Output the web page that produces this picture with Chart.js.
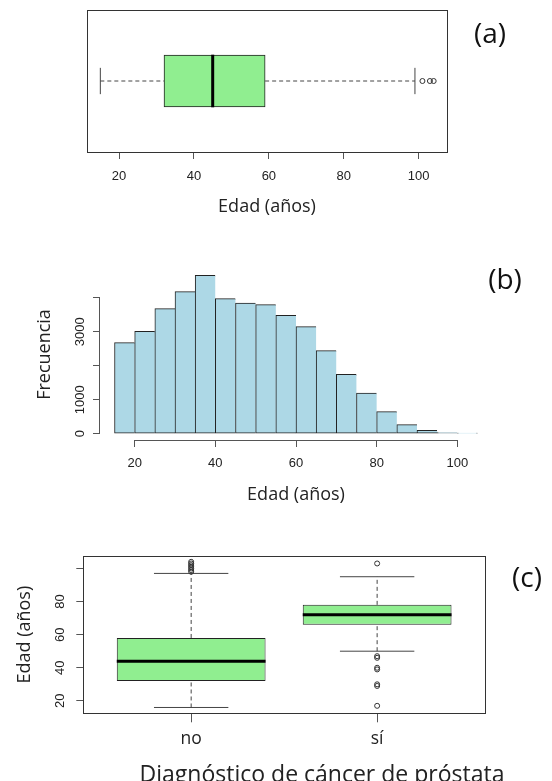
<!DOCTYPE html>
<html lang="es">
<head>
<meta charset="utf-8">
<title>Edad y diagnóstico de cáncer de próstata</title>
<script src="https://cdn.jsdelivr.net/npm/chart.js@4.4.1/dist/chart.umd.min.js"></script>
<style>
  html, body { margin: 0; padding: 0; background: #fff; overflow: hidden; }
  body { position: relative; width: 552px; height: 781px; }
  .panel { position: absolute; left: 0; width: 552px; }
  .letra { position: absolute; font: 28px "Open Sans", sans-serif; color: #111; line-height: 1; transform: translate(-50%, -50%); }
  .tituloX { position: absolute; font: 23px "Open Sans", sans-serif; color: #222; line-height: 1; white-space: nowrap; transform: translate(-50%, -50%); }
</style>
</head>
<body>
<div class="panel" style="top:0; height:232px;"><canvas id="graficoA"></canvas></div>
<div class="panel" style="top:240px; height:280px;"><canvas id="graficoB"></canvas></div>
<div class="panel" style="top:545px; height:250px;"><canvas id="graficoC"></canvas></div>
<div class="letra" style="left:490px; top:32px;">(a)</div>
<div class="letra" style="left:505px; top:278px;">(b)</div>
<div class="letra" style="left:527px; top:576px;">(c)</div>
<div class="tituloX" style="left:322px; top:773px;">Diagnóstico de cáncer de próstata</div>
<script>
// (a) edad de todos los pacientes: bigote inf., Q1, mediana, Q3, bigote sup.
const resumenEdad = [15, 32, 45, 59, 99];
const atipicosEdad = [101, 103, 104];
const ticksEdad = [20, 40, 60, 80, 100];

// (b) histograma de la edad
const limitesClase = [15, 20, 25, 30, 35, 40, 45, 50, 55, 60, 65, 70, 75, 80, 85, 90, 95, 100, 105];
const frecuencias = [2676, 3010, 3676, 4176, 4657, 3971, 3843, 3794, 3480, 3147, 2441, 1745, 1196, 647, 265, 98, 30, 15];
const ticksFrecuencia = [0, 1000, 2000, 3000, 4000];
const etiquetasFrecuencia = ['0', '1000', '', '3000', ''];

// (c) edad según diagnóstico
const grupos = ['no', 'sí'];
const resumenNo = [16, 32, 44, 58, 97];
const resumenSi = [50, 66, 72, 78, 95];
const atipicosNo = [98, 99, 100, 101, 102, 103, 104];
const atipicosSi = [103, 47, 46, 40, 39, 30, 29, 17];
const etiquetasEdadC = ['20', '40', '60', '80', ''];

const verde = '#90EE90';
const azul = '#ADD8E6';
const fuenteTicks = { family: '"Liberation Sans", Arial, sans-serif', size: 13 };
const fuenteTitulo = { family: '"Open Sans", sans-serif', size: 18 };

Chart.defaults.color = '#222';
Chart.defaults.font.family = '"Open Sans", sans-serif';

// rango como lo extiende R (4% a cada lado)
const rangoR = (lo, hi) => [lo - 0.04 * (hi - lo), hi + 0.04 * (hi - lo)];

// marco alrededor de la región del gráfico
const marco = {
  id: 'marco',
  afterDraw(chart) {
    const { ctx, chartArea: a } = chart;
    ctx.save();
    ctx.strokeStyle = '#333';
    ctx.lineWidth = 1;
    ctx.strokeRect(Math.round(a.left) + 0.5, Math.round(a.top) + 0.5,
      Math.round(a.right - a.left), Math.round(a.bottom - a.top));
    ctx.restore();
  }
};

// etiquetas del eje y giradas, al estilo de R
function etiquetasY(valores, textos, distancia) {
  return {
    id: 'etiquetasY',
    afterDraw(chart) {
      const { ctx, chartArea } = chart;
      const escala = chart.scales.y;
      ctx.save();
      ctx.font = '13px "Liberation Sans", Arial, sans-serif';
      ctx.fillStyle = '#222';
      ctx.textAlign = 'center';
      ctx.textBaseline = 'middle';
      valores.forEach((v, i) => {
        if (!textos[i]) return;
        ctx.save();
        ctx.translate(chartArea.left - distancia, escala.getPixelForValue(v));
        ctx.rotate(-Math.PI / 2);
        ctx.fillText(textos[i], 0, 0);
        ctx.restore();
      });
      ctx.restore();
    }
  };
}

// ejes que solo cubren desde el primer hasta el último tick
function ejesRango(ticksX, ticksY) {
  return {
    id: 'ejesRango',
    afterDraw(chart) {
      const { ctx, chartArea, scales } = chart;
      const yb = Math.round(chartArea.bottom) + 0.5;
      const xl = Math.round(chartArea.left) - 0.5;
      ctx.save();
      ctx.strokeStyle = '#555';
      ctx.lineWidth = 1;
      ctx.beginPath();
      ctx.moveTo(scales.x.getPixelForValue(ticksX[0]), yb);
      ctx.lineTo(scales.x.getPixelForValue(ticksX[ticksX.length - 1]), yb);
      ctx.moveTo(xl, scales.y.getPixelForValue(ticksY[0]));
      ctx.lineTo(xl, scales.y.getPixelForValue(ticksY[ticksY.length - 1]));
      ctx.stroke();
      ctx.restore();
    }
  };
}

// mediana, bigotes, topes y atípicos de una caja
function datasetsCaja(centro, resumen, atipicos, mitad, tope, horizontal) {
  const [inf, q1, med, q3, sup] = resumen;
  const punto = (v, p) => horizontal ? { x: v, y: p } : { x: p, y: v };
  const linea = (a, b, extra) => Object.assign({
    type: 'line', data: [a, b], borderColor: '#444', borderWidth: 1,
    pointRadius: 0, tension: 0, order: 2
  }, extra);
  return [
    linea(punto(med, centro - mitad), punto(med, centro + mitad), { borderColor: '#000', borderWidth: 3, order: 1 }),
    linea(punto(inf, centro), punto(q1, centro), { borderDash: [4, 3] }),
    linea(punto(q3, centro), punto(sup, centro), { borderDash: [4, 3] }),
    linea(punto(inf, centro - tope), punto(inf, centro + tope)),
    linea(punto(sup, centro - tope), punto(sup, centro + tope)),
    {
      type: 'scatter', data: atipicos.map(v => punto(v, centro)),
      pointStyle: 'circle', pointRadius: 2.5, borderWidth: 1,
      borderColor: '#333', backgroundColor: 'rgba(0,0,0,0)', order: 1
    }
  ];
}

const comunes = {
  responsive: true,
  maintainAspectRatio: false,
  animation: false,
  events: [],
  plugins: { legend: { display: false }, tooltip: { enabled: false } }
};
const rejilla = { offset: false, drawOnChartArea: false, drawTicks: true, tickLength: 7, color: '#555' };

// (a) diagrama de caja horizontal
const [aMin, aMax] = rangoR(resumenEdad[0], Math.max(...atipicosEdad));
new Chart(document.getElementById('graficoA'), {
  type: 'scatter',
  data: {
    datasets: [
      ...datasetsCaja(1, resumenEdad, atipicosEdad, 0.2, 0.1, true),
      {
        type: 'bar', indexAxis: 'y',
        data: [{ x: [resumenEdad[1], resumenEdad[3]], y: 1 }],
        backgroundColor: verde, borderColor: '#222', borderWidth: 1,
        borderSkipped: false, barThickness: 52, order: 3
      }
    ]
  },
  options: {
    ...comunes,
    layout: { padding: { top: 10, left: 87, right: 105, bottom: 0 } },
    scales: {
      x: {
        type: 'linear', min: aMin, max: aMax, bounds: 'data', offset: false,
        afterBuildTicks: s => { s.ticks = ticksEdad.map(v => ({ value: v })); },
        afterFit: s => { s.height = 80; },
        grid: rejilla,
        border: { display: false },
        ticks: { font: fuenteTicks, color: '#222', padding: 10, maxRotation: 0 },
        title: { display: true, text: 'Edad (años)', font: fuenteTitulo, color: '#222', padding: { top: 0, bottom: 14 } }
      },
      y: { type: 'linear', display: false, min: 0.46, max: 1.54, offset: false, grid: { offset: false } }
    }
  },
  plugins: [marco]
});

// (b) histograma
const [bMin, bMax] = rangoR(limitesClase[0], limitesClase[limitesClase.length - 1]);
const [fMin, fMax] = rangoR(0, Math.max(...frecuencias));
new Chart(document.getElementById('graficoB'), {
  type: 'scatter',
  data: {
    datasets: [{
      type: 'bar',
      data: frecuencias.map((f, i) => ({ x: (limitesClase[i] + limitesClase[i + 1]) / 2, y: f })),
      backgroundColor: azul,
      borderColor: '#222',
      borderWidth: ctx => ctx.dataIndex === frecuencias.length - 1 ? 1 : { top: 1, left: 1, bottom: 1, right: 0 },
      borderSkipped: false,
      categoryPercentage: 1,
      barPercentage: 1
    }]
  },
  options: {
    ...comunes,
    layout: { padding: { top: 29, left: 0, right: 60, bottom: 0 } },
    scales: {
      x: {
        type: 'linear', min: bMin, max: bMax, bounds: 'data', offset: false,
        afterBuildTicks: s => { s.ticks = ticksEdad.map(v => ({ value: v })); },
        afterFit: s => { s.height = 80; },
        grid: rejilla,
        border: { display: false },
        ticks: { font: fuenteTicks, color: '#222', padding: 9, maxRotation: 0 },
        title: { display: true, text: 'Edad (años)', font: fuenteTitulo, color: '#222', padding: { top: 0, bottom: 14 } }
      },
      y: {
        type: 'linear', min: fMin, max: fMax, bounds: 'data',
        afterBuildTicks: s => { s.ticks = ticksFrecuencia.map(v => ({ value: v })); },
        afterFit: s => { s.width = 100; },
        grid: rejilla,
        border: { display: false },
        ticks: { display: false },
        title: { display: true, text: 'Frecuencia', font: fuenteTitulo, color: '#222', padding: { top: 34, bottom: 0 } }
      }
    }
  },
  plugins: [ejesRango(ticksEdad, ticksFrecuencia), etiquetasY(ticksFrecuencia, etiquetasFrecuencia, 20)]
});

// (c) diagramas de caja por diagnóstico
const [cMin, cMax] = rangoR(Math.min(resumenNo[0], ...atipicosSi), Math.max(...atipicosNo));
const [gMin, gMax] = rangoR(0.5, grupos.length + 0.5);
new Chart(document.getElementById('graficoC'), {
  type: 'scatter',
  data: {
    datasets: [
      ...datasetsCaja(1, resumenNo, atipicosNo, 0.4, 0.2, false),
      ...datasetsCaja(2, resumenSi, atipicosSi, 0.4, 0.2, false),
      {
        type: 'bar',
        data: [
          { x: 1, y: [resumenNo[1], resumenNo[3]] },
          { x: 2, y: [resumenSi[1], resumenSi[3]] }
        ],
        backgroundColor: verde, borderColor: '#222', borderWidth: 1,
        borderSkipped: false, categoryPercentage: 0.8, barPercentage: 1, order: 3
      }
    ]
  },
  options: {
    ...comunes,
    layout: { padding: { top: 11, left: 0, right: 67, bottom: 0 } },
    scales: {
      x: {
        type: 'linear', min: gMin, max: gMax, bounds: 'data', offset: false,
        afterBuildTicks: s => { s.ticks = grupos.map((g, i) => ({ value: i + 1 })); },
        afterFit: s => { s.height = 81.7; },
        grid: { ...rejilla, tickLength: 9 },
        border: { display: false },
        ticks: { callback: v => grupos[v - 1], font: { family: '"Open Sans", sans-serif', size: 17.5 }, color: '#222', padding: 6, maxRotation: 0 }
      },
      y: {
        type: 'linear', min: cMin, max: cMax, bounds: 'data',
        afterBuildTicks: s => { s.ticks = ticksEdad.map(v => ({ value: v })); },
        afterFit: s => { s.width = 83.3; },
        grid: rejilla,
        border: { display: false },
        ticks: { display: false },
        title: { display: true, text: 'Edad (años)', font: fuenteTitulo, color: '#222', padding: { top: 14, bottom: 0 } }
      }
    }
  },
  plugins: [marco, etiquetasY(ticksEdad, etiquetasEdadC, 23)]
});
</script>
</body>
</html>
